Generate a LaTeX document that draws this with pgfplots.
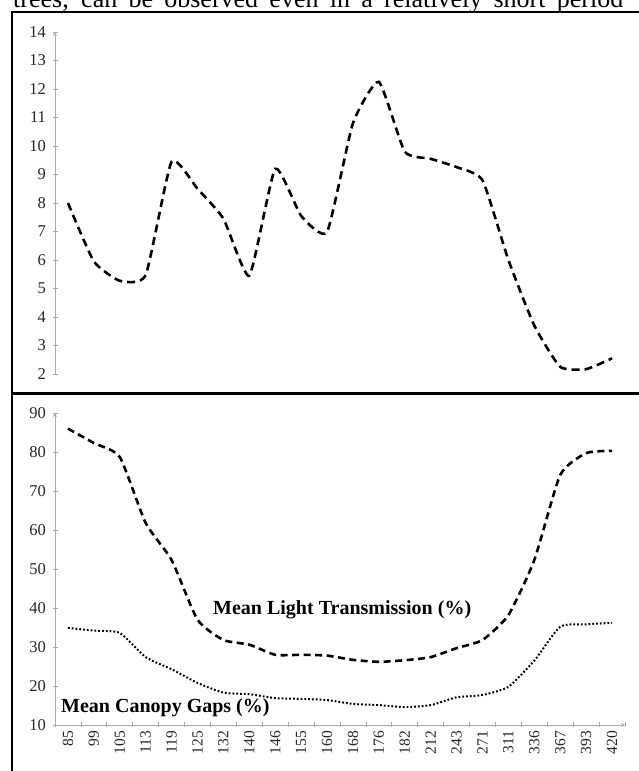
\documentclass[border=0pt]{standalone}
\usepackage{fontspec}
\setmainfont{Liberation Serif}
\usepackage{pgfplots}
\usepackage{pgfplotstable}
\pgfplotsset{compat=1.18}

\pgfplotstableread{
x top light gaps
0.5 8.0 86.0 34.9
1.5 5.95 82.3 34.2
2.5 5.27 78.7 33.6
3.5 5.47 61.8 27.4
4.5 9.45 52.3 24.3
5.5 8.5 37.0 20.8
6.5 7.45 31.8 18.3
7.5 5.45 30.6 17.9
8.5 9.2 28.0 16.9
9.5 7.55 28.0 16.7
10.5 6.98 27.8 16.4
11.5 10.8 26.7 15.4
12.5 12.25 26.2 15.1
13.5 9.8 26.6 14.6
14.5 9.55 27.4 15.1
15.5 9.26 29.7 17.1
16.5 8.8 31.8 17.7
17.5 6.0 38.2 19.8
18.5 3.7 52.3 26.5
19.5 2.25 74.1 35.2
20.5 2.17 79.7 35.8
21.5 2.55 80.3 36.2
}\data

\definecolor{axgray}{RGB}{170,170,170}

\pgfplotsset{
  common/.style={
    scale only axis,
    anchor=south west,
    width=570pt,
    xmin=0, xmax=22,
    tick align=outside,
    major tick length=5pt,
    axis line style={-, draw=axgray, line width=0.8pt},
    tick style={draw=axgray, line width=0.8pt},
    /pgf/number format/assume math mode=true,
    yticklabel style={font=\fontsize{16.5}{18}\selectfont, text=black!85, xshift=-3pt},
    clip=false,
  },
}

\begin{document}
\begin{tikzpicture}[x=1pt,y=1pt]
% cropped text line at the very top
\node[anchor=base west, inner sep=0pt, font=\fontsize{26}{28}\selectfont] at (13,763)
  {\makebox[610pt][s]{trees, can be observed even in a relatively short period}};

% top panel
\begin{axis}[common,
  at={(55pt,397pt)},
  height=342pt,
  ymin=2, ymax=14,
  ytick={2,3,...,14},
  axis y line=left,
  axis x line=none,
]
\addplot[black, line width=2.6pt, dash pattern=on 8pt off 5pt, smooth, tension=0.3]
  table[x=x, y=top] {\data};
\end{axis}

% bottom panel
\begin{axis}[common,
  at={(55pt,46pt)},
  height=312pt,
  ymin=10, ymax=90,
  ytick={10,20,...,90},
  axis lines=left,
  xtick={0,...,22},
  x tick label as interval,
  xticklabels={85,99,105,113,119,125,132,140,146,155,160,168,176,182,212,243,271,311,336,367,393,420},
  xticklabel style={rotate=90, anchor=east, font=\fontsize{15.5}{17}\selectfont, text=black!85},
]
\addplot[black, line width=2.6pt, dash pattern=on 7pt off 4.5pt, smooth, tension=0.35]
  table[x=x, y=light] {\data};
\addplot[black, line width=2pt, dash pattern=on 1.8pt off 2pt, smooth, tension=0.35]
  table[x=x, y=gaps] {\data};
\end{axis}

\node[anchor=base west, inner sep=0pt, font=\bfseries\fontsize{20}{22}\selectfont] at (213,156) {Mean Light Transmission (\%)};
\node[anchor=base west, inner sep=0pt, font=\bfseries\fontsize{20}{22}\selectfont] at (61,58) {Mean Canopy Gaps (\%)};

% frame
\draw[line width=2pt] (12,0) -- (12,758.5) -- (639,758.5);
\draw[line width=3pt] (12,377.5) -- (639,377.5);

\pgfresetboundingbox
\path[use as bounding box] (0,0) rectangle (639,771);
\end{tikzpicture}
\end{document}
